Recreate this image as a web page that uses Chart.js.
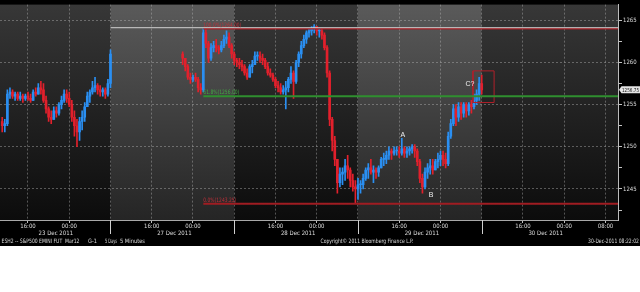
<!DOCTYPE html>
<html>
<head>
<meta charset="utf-8">
<script src="https://cdn.jsdelivr.net/npm/chart.js@4.4.1/dist/chart.umd.min.js"></script>
<style>
  html, body { margin:0; padding:0; background:#ffffff; }
  #wrap { position:relative; width:640px; height:246px; background:#000; }
  canvas { display:block; }
</style>
</head>
<body>
<div id="wrap"><canvas id="chart" width="640" height="246"></canvas></div>
<script>
// ---------------- data ----------------
// time axis: trading hours counted from 23 Dec 16:00 (holiday gap collapsed)
const barHours = 0.5;
const session1Start = -5;
const session2Start = 30;
const firstOpen = 1253.00;

const s1Close = [1252.50,1252.75,1256.25,1256.50,1256.00,1256.25,1255.75,1256.00,1255.75,1256.00,1255.75,1255.50,1256.50,1256.25,1257.00,1256.75,1255.50,1254.50,1253.50,1253.25,1254.25,1254.00,1255.00,1255.50,1256.25,1255.75,1255.00,1253.50,1252.50,1251.75,1253.00,1253.50,1254.75,1256.00,1256.50,1257.00,1257.25,1256.75,1256.50,1256.75,1256.25,1257.50,1261.00];
const s1High  = [1253.50,1253.25,1256.75,1257.00,1256.75,1256.50,1256.50,1256.50,1256.25,1256.25,1256.50,1256.25,1256.75,1257.00,1257.50,1257.75,1257.50,1256.00,1254.75,1254.25,1254.75,1254.75,1255.25,1256.00,1256.75,1256.75,1256.50,1255.50,1254.25,1253.25,1253.50,1254.25,1255.25,1256.50,1256.75,1257.75,1258.25,1257.50,1257.25,1257.00,1257.00,1258.00,1261.50];
const s1Low   = [1251.75,1251.75,1252.50,1255.75,1255.75,1255.50,1255.50,1255.50,1255.25,1255.50,1255.50,1255.25,1255.50,1256.00,1256.25,1256.25,1255.25,1254.00,1253.00,1252.75,1253.25,1253.50,1253.75,1254.50,1255.25,1255.25,1254.75,1253.00,1251.25,1250.00,1250.75,1252.00,1253.00,1254.75,1255.25,1256.25,1256.50,1256.25,1256.00,1256.00,1255.75,1256.00,1257.00];

const s2Close = [1260.50,1259.50,1258.25,1258.00,1258.25,1258.00,1257.00,1256.75,1263.50,1262.25,
  1260.50,1261.75,1262.00,1261.75,1261.50,1262.00,1262.75,1263.00,1262.00,1261.00,
  1260.25,1260.00,1259.75,1259.50,1258.75,1258.25,1259.50,1259.75,1260.75,1260.75,
  1260.50,1260.25,1259.50,1258.75,1258.50,1258.00,1257.25,1257.00,1256.50,1256.75,
  1257.00,1258.00,1258.75,1257.75,1260.00,1261.00,1262.00,1262.75,1263.50,1263.75,
  1264.00,1264.25,1263.75,1263.75,1263.25,1261.75,1258.75,1253.25,1250.75,1248.50,
  1245.75,1246.75,1247.00,1247.75,1247.25,1246.00,1245.25,1245.00,1245.50,1245.50,
  1246.25,1247.25,1247.50,1247.00,1247.25,1247.00,1247.50,1248.50,1248.50,1249.00,
  1249.50,1249.25,1249.50,1249.50,1249.25,1249.75,1249.25,1249.50,1249.75,1250.00,
  1249.50,1248.25,1246.25,1245.25,1247.00,1247.50,1247.75,1247.25,1248.25,1248.50,
  1249.00,1248.50,1248.00,1251.25,1252.75,1254.50,1253.50,1254.75,1254.00,1255.00,
  1254.25,1255.00,1254.75,1255.50,1256.25,1257.50,1256.75];
const s2High = [1261.25,1260.50,1259.75,1258.75,1258.50,1258.75,1258.25,1257.50,1264.00,1264.00,
  1262.50,1262.25,1262.50,1262.75,1262.00,1262.50,1263.25,1263.75,1263.50,1262.25,
  1261.25,1260.50,1260.50,1260.25,1259.75,1259.25,1259.75,1260.25,1261.25,1261.25,
  1261.25,1261.00,1260.50,1260.00,1259.25,1258.75,1258.25,1257.75,1257.50,1257.25,
  1257.75,1258.25,1259.50,1259.00,1260.25,1261.25,1262.50,1263.25,1263.75,1264.00,
  1264.25,1264.50,1264.25,1264.00,1264.00,1263.50,1262.00,1259.00,1253.50,1251.25,
  1248.50,1247.50,1247.50,1248.50,1249.00,1247.50,1246.75,1246.00,1246.25,1246.00,
  1246.75,1247.50,1248.00,1248.50,1247.75,1247.50,1247.75,1248.75,1249.25,1249.50,
  1250.00,1249.75,1250.00,1250.00,1250.00,1251.00,1250.00,1250.00,1250.00,1250.25,
  1250.25,1249.75,1248.50,1246.75,1247.50,1248.00,1248.50,1248.50,1248.50,1249.25,
  1249.50,1249.50,1249.25,1251.75,1253.25,1255.00,1255.00,1255.25,1255.25,1255.25,
  1255.25,1255.25,1255.50,1256.25,1256.75,1258.25,1258.50];
const s2Low = [1259.75,1259.00,1258.00,1257.50,1257.75,1257.75,1256.50,1256.25,1256.50,1261.75,
  1260.00,1260.25,1261.25,1261.25,1261.00,1261.25,1261.75,1262.25,1261.75,1260.50,
  1259.75,1259.50,1259.25,1259.00,1258.50,1258.00,1258.25,1258.75,1259.75,1260.25,
  1260.00,1259.75,1259.25,1258.50,1258.25,1257.75,1257.00,1256.50,1256.25,1256.25,
  1254.50,1256.50,1257.50,1255.75,1257.50,1259.50,1260.50,1261.75,1262.25,1263.00,
  1263.25,1263.50,1263.25,1263.00,1262.75,1261.50,1258.25,1252.50,1249.50,1247.75,
  1244.50,1245.25,1245.50,1246.00,1246.25,1245.25,1244.75,1243.25,1243.75,1244.50,
  1245.00,1246.00,1246.25,1246.75,1245.75,1246.25,1246.50,1247.50,1247.75,1248.00,
  1248.50,1248.50,1249.00,1249.00,1248.75,1249.00,1248.75,1248.75,1249.00,1249.25,
  1248.75,1247.75,1245.75,1244.50,1245.00,1246.25,1246.75,1246.75,1247.25,1247.50,
  1247.75,1247.75,1247.50,1247.75,1251.00,1252.50,1252.50,1253.00,1253.25,1253.50,
  1253.50,1253.75,1254.00,1254.50,1255.00,1255.50,1256.25];

const timeTickHours  = [0, 8, 24, 32, 48, 56, 72, 80, 96, 104, 112];
const timeTickLabels = ['16:00','00:00','16:00','00:00','16:00','00:00','16:00','00:00','16:00','00:00','08:00'];
const dateTickHours  = [5.4, 28.4, 52.4, 76.4, 100.4];
const dateTickLabels = ['23 Dec 2011','27 Dec 2011','28 Dec 2011','29 Dec 2011','30 Dec 2011'];
const sessionBreaks  = [16, 40, 64, 88];
const gridHours      = [0, 8, 16, 24, 32, 40, 48, 56, 64, 72, 80, 88, 96, 104, 112];
const priceTicks     = [1242.5, 1245, 1247.5, 1250, 1252.5, 1255, 1257.5, 1260, 1262.5, 1265];

const fibStart   = 34;
const fibLevels  = [1264.00, 1256.00, 1243.25];
const fibLabels  = ['100.0%(1264.00)', '61.8%(1256.00)', '0.0%(1243.25)'];
const resistanceStart = 16;
const resistanceLevel = 1264.12;
const boxHours  = [86.3, 90.4];
const boxPrices = [1255.25, 1259.00];
const waveLabels = ['A', 'B', 'C?'];
const waveHours  = [72.7, 78.2, 85.7];
const wavePrices = [1251.4, 1244.3, 1257.45];
const lastPrice  = 1256.75;

const infoLeft  = ['ESH2 -- S&P500 EMINI FUT  Mar12', 'G-1', '5 Days', '5 Minutes'];
const infoMid   = 'Copyright\u00A9 2011 Bloomberg Finance L.P.';
const infoRight = '30-Dec-2011 08:22:02';

// axis bounds
const xMin = -5.43, xMax = 114.43;
const yMin = 1241.32, yMax = 1266.86;

// ---------------- build ----------------
const closes = s1Close.concat(s2Close);
const highsRaw = s1High.concat(s2High);
const lowsRaw = s1Low.concat(s2Low);
const times = s1Close.map((_, i) => session1Start + i * barHours)
  .concat(s2Close.map((_, i) => session2Start + i * barHours));
const opens = closes.map((c, i) => i === 0 ? firstOpen : closes[i - 1]);
const highs = highsRaw.map((h, i) => Math.max(h, opens[i], closes[i]));
const lows = lowsRaw.map((l, i) => Math.min(l, opens[i], closes[i]));

const UP = '#2a8ff2', DOWN = '#e2202c';
const candleColors = closes.map((c, i) => c >= opens[i] ? UP : DOWN);

const FONT = "'Liberation Sans Narrow','Arial Narrow','DejaVu Sans Condensed','Liberation Sans',sans-serif";
Chart.defaults.font.family = FONT;

const GRID = 'rgba(185,185,185,0.42)';

const bgPlugin = {
  id: 'bg',
  beforeDraw(chart) {
    const { ctx, chartArea: a, scales: { x } } = chart;
    ctx.save();
    ctx.fillStyle = '#000';
    ctx.fillRect(0, 0, chart.width, chart.height);
    const edges = [x.min, ...sessionBreaks, x.max];
    for (let i = 0; i < edges.length - 1; i++) {
      const x0 = x.getPixelForValue(edges[i]);
      const x1 = x.getPixelForValue(edges[i + 1]);
      const g = ctx.createLinearGradient(0, a.top, 0, a.bottom);
      if (i % 2 === 1) { g.addColorStop(0, '#5a5a5a'); g.addColorStop(1, '#252525'); }
      else { g.addColorStop(0, '#373737'); g.addColorStop(1, '#0c0c0c'); }
      ctx.fillStyle = g;
      ctx.fillRect(x0, a.top, x1 - x0, a.bottom - a.top);
    }
    ctx.restore();
  }
};

const overlayPlugin = {
  id: 'overlay',
  afterDraw(chart) {
    const { ctx, chartArea: a, scales: { x, y } } = chart;
    ctx.save();
    // session separators in the time strip
    ctx.strokeStyle = '#cfcfcf';
    ctx.lineWidth = 1;
    sessionBreaks.forEach(h => {
      const px = Math.round(x.getPixelForValue(h)) + 0.5;
      ctx.beginPath(); ctx.moveTo(px, a.bottom); ctx.lineTo(px, a.bottom + 14); ctx.stroke();
    });
    // fibonacci labels
    const fibColors = ['#c0303a', '#44a844', '#c0303a'];
    const fibWidths = [38, 36, 33];
    ctx.font = '6px ' + FONT;
    ctx.textAlign = 'left';
    ctx.textBaseline = 'alphabetic';
    fibLevels.forEach((lv, i) => {
      ctx.fillStyle = fibColors[i];
      ctx.fillText(fibLabels[i], x.getPixelForValue(fibStart), y.getPixelForValue(lv) - 2, fibWidths[i]);
    });
    // wave labels
    ctx.font = "7px 'Liberation Sans', sans-serif";
    ctx.fillStyle = '#eeeeee';
    ctx.textAlign = 'center';
    ctx.textBaseline = 'middle';
    waveLabels.forEach((t, i) => {
      ctx.fillText(t, x.getPixelForValue(waveHours[i]), y.getPixelForValue(wavePrices[i]));
    });
    // last price tag
    const py = y.getPixelForValue(lastPrice);
    ctx.fillStyle = '#e4e4e4';
    ctx.beginPath();
    ctx.moveTo(a.right + 1, py);
    ctx.lineTo(a.right + 3.5, py - 3.5);
    ctx.lineTo(chart.width, py - 3.5);
    ctx.lineTo(chart.width, py + 3.5);
    ctx.lineTo(a.right + 3.5, py + 3.5);
    ctx.closePath();
    ctx.fill();
    ctx.fillStyle = '#111';
    ctx.font = '5.5px ' + FONT;
    ctx.textAlign = 'left';
    ctx.fillText(lastPrice.toFixed(2), a.right + 4, py + 0.5, chart.width - a.right - 5);
    // bottom info line
    ctx.fillStyle = '#dcdcdc';
    ctx.font = '6px ' + FONT;
    const infoY = 241;
    const leftX = [1.5, 88, 105, 120];
    const leftW = [78, 9, 12, 25];
    infoLeft.forEach((t, i) => ctx.fillText(t, leftX[i], infoY, leftW[i]));
    ctx.fillText(infoMid, 320.5, infoY, 93);
    ctx.textAlign = 'right';
    ctx.fillText(infoRight, chart.width - 1, infoY, 51);
    ctx.restore();
  }
};

const lineDs = (data, color, width) => ({
  type: 'line', data, borderColor: color, borderWidth: width, pointRadius: 0,
  fill: false, tension: 0, order: 0
});

const chart = new Chart(document.getElementById('chart'), {
  type: 'bar',
  data: {
    datasets: [
      lineDs([{ x: resistanceStart, y: resistanceLevel }, { x: xMax, y: resistanceLevel }], '#d2d2d2', 1),
      lineDs([{ x: fibStart, y: fibLevels[0] }, { x: xMax, y: fibLevels[0] }], '#a01c22', 1.5),
      lineDs([{ x: fibStart, y: fibLevels[1] }, { x: xMax, y: fibLevels[1] }], '#2f8f2f', 2),
      lineDs([{ x: fibStart, y: fibLevels[2] }, { x: xMax, y: fibLevels[2] }], '#a01c22', 2),
      lineDs([
        { x: boxHours[0], y: boxPrices[0] }, { x: boxHours[1], y: boxPrices[0] },
        { x: boxHours[1], y: boxPrices[1] }, { x: boxHours[0], y: boxPrices[1] },
        { x: boxHours[0], y: boxPrices[0] }
      ], '#b0202a', 1),
      {
        type: 'bar', data: times.map((t, i) => ({ x: t, y: [lows[i], highs[i]] })),
        backgroundColor: candleColors, barThickness: 1, grouped: false, minBarLength: 1, order: 3
      },
      {
        type: 'bar', data: times.map((t, i) => ({ x: t, y: [opens[i], closes[i]] })),
        backgroundColor: candleColors, barThickness: 2, grouped: false, minBarLength: 1, order: 2
      }
    ]
  },
  options: {
    responsive: false,
    animation: false,
    devicePixelRatio: 1,
    events: [],
    layout: { padding: 0 },
    plugins: { legend: { display: false }, tooltip: { enabled: false } },
    scales: {
      x: {
        type: 'linear', min: xMin, max: xMax, offset: false, position: 'bottom',
        afterBuildTicks: s => { s.ticks = gridHours.concat(dateTickHours).sort((a, b) => a - b).map(v => ({ value: v })); },
        afterFit: s => { s.height = 26; },
        ticks: {
          autoSkip: false, maxRotation: 0, minRotation: 0, padding: 0, color: '#dedede',
          font: { size: 6 },
          callback: v => {
            const ti = timeTickHours.indexOf(v);
            if (ti >= 0) return timeTickLabels[ti];
            const di = dateTickHours.indexOf(v);
            if (di >= 0) return ['', dateTickLabels[di]];
            return '';
          }
        },
        grid: {
          offset: false,
          color: c => (c.tick && dateTickHours.includes(c.tick.value)) ? 'rgba(0,0,0,0)' : GRID,
          tickColor: c => (c.tick && timeTickHours.includes(c.tick.value)) ? '#bdbdbd' : 'rgba(0,0,0,0)',
          tickLength: 3, lineWidth: 1
        },
        border: { display: true, color: '#a8a8a8', width: 1, dash: [2, 2] }
      },
      y: {
        type: 'linear', position: 'right', min: yMin, max: yMax,
        afterBuildTicks: s => { s.ticks = priceTicks.map(v => ({ value: v })); },
        afterFit: s => { s.width = 22; },
        ticks: {
          padding: 1, color: '#dedede', font: { size: 6 },
          callback: v => (v % 5 === 0) ? String(v) : ''
        },
        grid: {
          color: c => (c.tick && c.tick.value % 5 === 0) ? GRID : 'rgba(0,0,0,0)',
          tickColor: '#c4c4c4', tickLength: 4, lineWidth: 1
        },
        border: { display: true, color: '#bdbdbd', width: 1, dash: [2, 2] }
      }
    }
  },
  plugins: [bgPlugin, overlayPlugin]
});
</script>
</body>
</html>
